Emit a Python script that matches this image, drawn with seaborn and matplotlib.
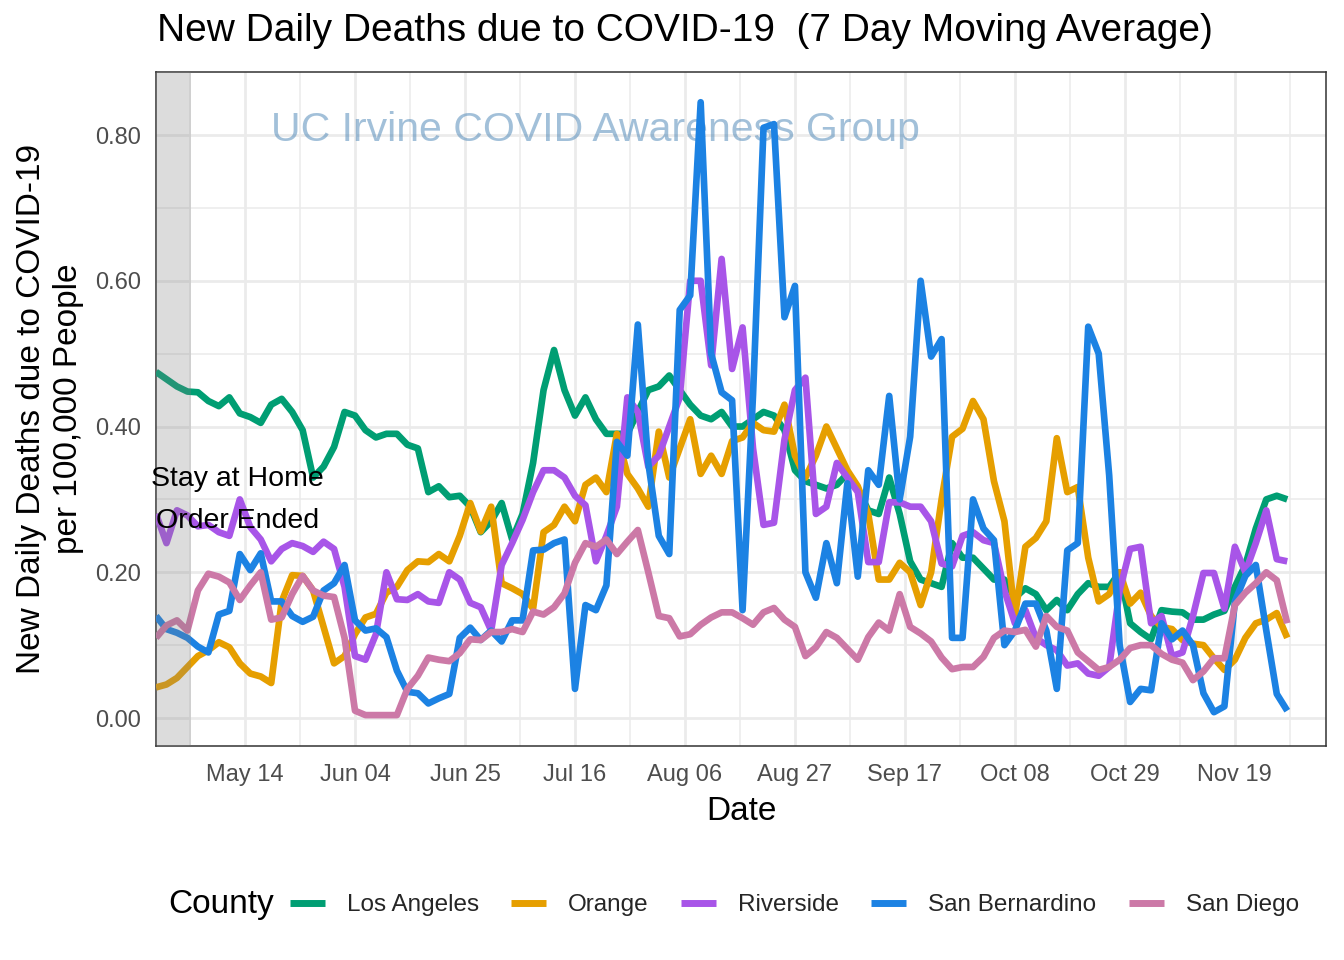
import numpy as np
import pandas as pd
import matplotlib
matplotlib.use("Agg")
import matplotlib.pyplot as plt
import seaborn as sns

# ---- data (7-day moving average deaths per 100k, every 2 days from Apr 27 2020) ----
start_date = "2020-04-27"
los_angeles = [0.475, 0.465, 0.455, 0.448, 0.447, 0.435, 0.428, 0.44, 0.418, 0.413,
               0.405, 0.43, 0.438, 0.42, 0.395, 0.33, 0.345, 0.372, 0.42, 0.415,
               0.395, 0.385, 0.39, 0.39, 0.375, 0.37, 0.31, 0.318, 0.303, 0.305,
               0.29, 0.255, 0.27, 0.295, 0.245, 0.28, 0.35, 0.45, 0.505, 0.45,
               0.415, 0.44, 0.41, 0.39, 0.39, 0.39, 0.42, 0.45, 0.455, 0.47,
               0.45, 0.43, 0.415, 0.41, 0.42, 0.40, 0.40, 0.41, 0.42, 0.415,
               0.395, 0.34, 0.325, 0.32, 0.315, 0.32, 0.335, 0.315, 0.285, 0.28,
               0.33, 0.28, 0.215, 0.19, 0.185, 0.18, 0.24, 0.22, 0.22, 0.205,
               0.19, 0.19, 0.165, 0.178, 0.17, 0.148, 0.162, 0.148, 0.17, 0.185,
               0.18, 0.18, 0.2, 0.13, 0.118, 0.108, 0.148, 0.146, 0.145, 0.135,
               0.135, 0.142, 0.147, 0.18, 0.21, 0.26, 0.3, 0.305, 0.30]
orange = [0.042, 0.046, 0.055, 0.07, 0.085, 0.093, 0.104, 0.097, 0.075, 0.061,
          0.057, 0.048, 0.16, 0.196, 0.195, 0.175, 0.125, 0.075, 0.085, 0.115,
          0.138, 0.143, 0.172, 0.18, 0.203, 0.215, 0.214, 0.225, 0.215, 0.25,
          0.295, 0.256, 0.29, 0.185, 0.178, 0.17, 0.15, 0.255, 0.265, 0.29,
          0.27, 0.32, 0.33, 0.31, 0.39, 0.335, 0.315, 0.29, 0.393, 0.33,
          0.37, 0.41, 0.335, 0.36, 0.335, 0.38, 0.385, 0.405, 0.395, 0.393,
          0.43, 0.36, 0.33, 0.36, 0.4, 0.37, 0.34, 0.318, 0.28, 0.19,
          0.19, 0.213, 0.2, 0.155, 0.2, 0.3, 0.386, 0.397, 0.435, 0.41,
          0.325, 0.27, 0.14, 0.235, 0.247, 0.27, 0.384, 0.31, 0.317, 0.22,
          0.16, 0.17, 0.2, 0.157, 0.172, 0.14, 0.125, 0.122, 0.107, 0.102,
          0.1, 0.082, 0.066, 0.08, 0.11, 0.13, 0.135, 0.144, 0.11]
riverside = [0.28, 0.24, 0.285, 0.278, 0.263, 0.265, 0.255, 0.25, 0.3, 0.262,
             0.245, 0.215, 0.232, 0.24, 0.236, 0.228, 0.242, 0.232, 0.18, 0.085,
             0.08, 0.115, 0.2, 0.163, 0.162, 0.17, 0.16, 0.158, 0.2, 0.19,
             0.158, 0.152, 0.12, 0.21, 0.24, 0.272, 0.31, 0.34, 0.34, 0.33,
             0.305, 0.292, 0.215, 0.25, 0.29, 0.44, 0.42, 0.345, 0.36, 0.4,
             0.44, 0.6, 0.6, 0.484, 0.63, 0.479, 0.536, 0.37, 0.265, 0.268,
             0.382, 0.45, 0.467, 0.28, 0.29, 0.35, 0.33, 0.31, 0.214, 0.214,
             0.296, 0.296, 0.29, 0.29, 0.27, 0.212, 0.208, 0.25, 0.255, 0.244,
             0.24, 0.175, 0.13, 0.148, 0.11, 0.1, 0.093, 0.072, 0.075, 0.061,
             0.058, 0.07, 0.175, 0.232, 0.235, 0.13, 0.14, 0.085, 0.09, 0.14,
             0.199, 0.199, 0.15, 0.235, 0.2, 0.24, 0.285, 0.218, 0.215]
san_bernardino = [0.14, 0.122, 0.117, 0.11, 0.098, 0.09, 0.142, 0.147, 0.225, 0.203,
                  0.226, 0.16, 0.16, 0.14, 0.132, 0.139, 0.175, 0.185, 0.21, 0.134,
                  0.12, 0.123, 0.111, 0.065, 0.036, 0.034, 0.02, 0.027, 0.033, 0.11,
                  0.124, 0.107, 0.12, 0.105, 0.134, 0.134, 0.23, 0.231, 0.24, 0.245,
                  0.04, 0.155, 0.148, 0.182, 0.379, 0.36, 0.54, 0.35, 0.25, 0.225,
                  0.56, 0.58, 0.845, 0.5, 0.447, 0.436, 0.148, 0.444, 0.81, 0.815,
                  0.55, 0.593, 0.2, 0.165, 0.24, 0.185, 0.322, 0.194, 0.34, 0.32,
                  0.442, 0.3, 0.386, 0.6, 0.496, 0.52, 0.11, 0.11, 0.3, 0.26,
                  0.244, 0.1, 0.12, 0.157, 0.157, 0.12, 0.04, 0.23, 0.24, 0.537,
                  0.5, 0.333, 0.1, 0.022, 0.04, 0.038, 0.13, 0.108, 0.12, 0.1,
                  0.034, 0.008, 0.016, 0.16, 0.195, 0.21, 0.12, 0.033, 0.01]
san_diego = [0.11, 0.127, 0.134, 0.12, 0.175, 0.198, 0.194, 0.186, 0.162, 0.182,
             0.2, 0.135, 0.138, 0.17, 0.195, 0.175, 0.168, 0.166, 0.11, 0.01,
             0.004, 0.004, 0.004, 0.004, 0.04, 0.058, 0.083, 0.08, 0.078, 0.089,
             0.108, 0.107, 0.118, 0.118, 0.122, 0.118, 0.146, 0.142, 0.152, 0.171,
             0.213, 0.24, 0.235, 0.245, 0.225, 0.242, 0.258, 0.2, 0.14, 0.137,
             0.112, 0.115, 0.128, 0.138, 0.145, 0.145, 0.137, 0.128, 0.145, 0.151,
             0.135, 0.125, 0.085, 0.097, 0.118, 0.11, 0.095, 0.08, 0.111, 0.131,
             0.12, 0.17, 0.125, 0.116, 0.105, 0.083, 0.067, 0.07, 0.07, 0.084,
             0.11, 0.12, 0.118, 0.121, 0.098, 0.14, 0.125, 0.12, 0.09, 0.078,
             0.066, 0.07, 0.08, 0.096, 0.1, 0.1, 0.088, 0.08, 0.076, 0.052,
             0.064, 0.082, 0.082, 0.155, 0.172, 0.185, 0.2, 0.189, 0.13]

counties = ["Los Angeles", "Orange", "Riverside", "San Bernardino", "San Diego"]
county_colors = ["#009E73", "#E69F00", "#A855E8", "#1C82E3", "#CC79A7"]
x_tick_dates = ["2020-05-14", "2020-06-04", "2020-06-25", "2020-07-16", "2020-08-06",
                "2020-08-27", "2020-09-17", "2020-10-08", "2020-10-29", "2020-11-19"]
x_tick_labels = ["May 14", "Jun 04", "Jun 25", "Jul 16", "Aug 06",
                 "Aug 27", "Sep 17", "Oct 08", "Oct 29", "Nov 19"]
y_ticks = [0.0, 0.2, 0.4, 0.6, 0.8]
y_tick_labels = ["0.00", "0.20", "0.40", "0.60", "0.80"]
order_end_date = "2020-05-03 17:00"

series = [los_angeles, orange, riverside, san_bernardino, san_diego]
n = len(los_angeles)
dates = pd.date_range(start_date, periods=n, freq="2D")
df = pd.DataFrame({
    "Date": np.tile(dates, len(counties)),
    "Deaths": np.concatenate([np.asarray(s, dtype=float) for s in series]),
    "County": np.repeat(counties, n),
})

sns.set_theme(style="white")
plt.rcParams["font.family"] = ["Liberation Sans", "DejaVu Sans"]

W, H = 1344, 960
fig = plt.figure(figsize=(W / 100, H / 100), dpi=100)
ax = fig.add_axes([156 / W, 1 - 746 / H, 1170 / W, 674 / H])

sns.lineplot(data=df, x="Date", y="Deaths", hue="County", hue_order=counties,
             palette=dict(zip(counties, county_colors)), linewidth=4.8,
             estimator=None, ax=ax, legend=True, zorder=3)
for ln in ax.get_lines():
    ln.set_solid_joinstyle("round")
    ln.set_solid_capstyle("butt")

t0 = pd.Timestamp(start_date)
ax.set_xlim(t0, t0 + pd.Timedelta(days=223.4))
ax.set_ylim(-0.0384, 0.8865)

major = pd.to_datetime(x_tick_dates)
ax.set_xticks(major)
ax.set_xticklabels(x_tick_labels)
minor = [d - pd.Timedelta(hours=252) for d in major] + [major[-1] + pd.Timedelta(hours=252)]
ax.set_xticks(minor, minor=True)
ax.set_yticks(y_ticks)
ax.set_yticklabels(y_tick_labels)
ax.set_yticks([0.1, 0.3, 0.5, 0.7], minor=True)

ax.grid(which="major", color="#EBEBEB", linewidth=2.0, zorder=0)
ax.grid(which="minor", color="#EBEBEB", linewidth=1.1, zorder=0)
ax.set_axisbelow(True)
for sp in ax.spines.values():
    sp.set_color("#333333")
    sp.set_linewidth(1.1)
ax.tick_params(which="major", length=5, width=1.1, color="#333333",
               labelsize=17, labelcolor="#4D4D4D")
ax.tick_params(axis="x", which="major", pad=8)
ax.tick_params(axis="y", which="major", pad=5.5)
ax.tick_params(which="minor", length=0)
ax.set_xlabel("")
ax.set_ylabel("")

# shaded stay-at-home period
ax.axvspan(t0 - pd.Timedelta(days=5), pd.Timestamp(order_end_date),
           color="#808080", alpha=0.27, lw=0, zorder=4)

ax.text(pd.Timestamp("2020-05-12 12:00"), 0.328, "Stay at Home", fontsize=20.5,
        ha="center", va="center", color="black", zorder=5, clip_on=False)
ax.text(pd.Timestamp("2020-05-12 12:00"), 0.270, "Order Ended", fontsize=20.5,
        ha="center", va="center", color="black", zorder=5, clip_on=False)

ax.text(pd.Timestamp("2020-07-20"), 0.807, "UC Irvine COVID Awareness Group",
        fontsize=29.5, ha="center", va="center", color="#4682B4", alpha=0.5, zorder=1)

# titles
fig.text(157 / W, 1 - 31 / H, "New Daily Deaths due to COVID-19  (7 Day Moving Average)",
         fontsize=28, ha="left", va="center", color="black")
fig.text(741 / W, 1 - 812 / H, "Date", fontsize=24, ha="center", va="center", color="black")
fig.text(50 / W, 1 - 409 / H, "New Daily Deaths due to COVID-19\nper 100,000 People",
         fontsize=24, rotation=90, ha="center", va="center", multialignment="center",
         color="black", linespacing=1.25)

# legend
handles, labels = ax.get_legend_handles_labels()
ax.get_legend().remove()
for h in handles:
    h.set_linewidth(5.0)
    h.set_solid_capstyle("butt")
leg = fig.legend(handles, labels, loc="center left", bbox_to_anchor=(290 / W, 1 - 905 / H),
                 ncol=5, frameon=False, fontsize=17.5, handlelength=1.44,
                 handletextpad=0.9, columnspacing=1.33, borderpad=0, borderaxespad=0)
fig.text(168 / W, 1 - 905 / H, "County", fontsize=24, ha="left", va="center", color="black")

fig.savefig("out.png", dpi=100)
